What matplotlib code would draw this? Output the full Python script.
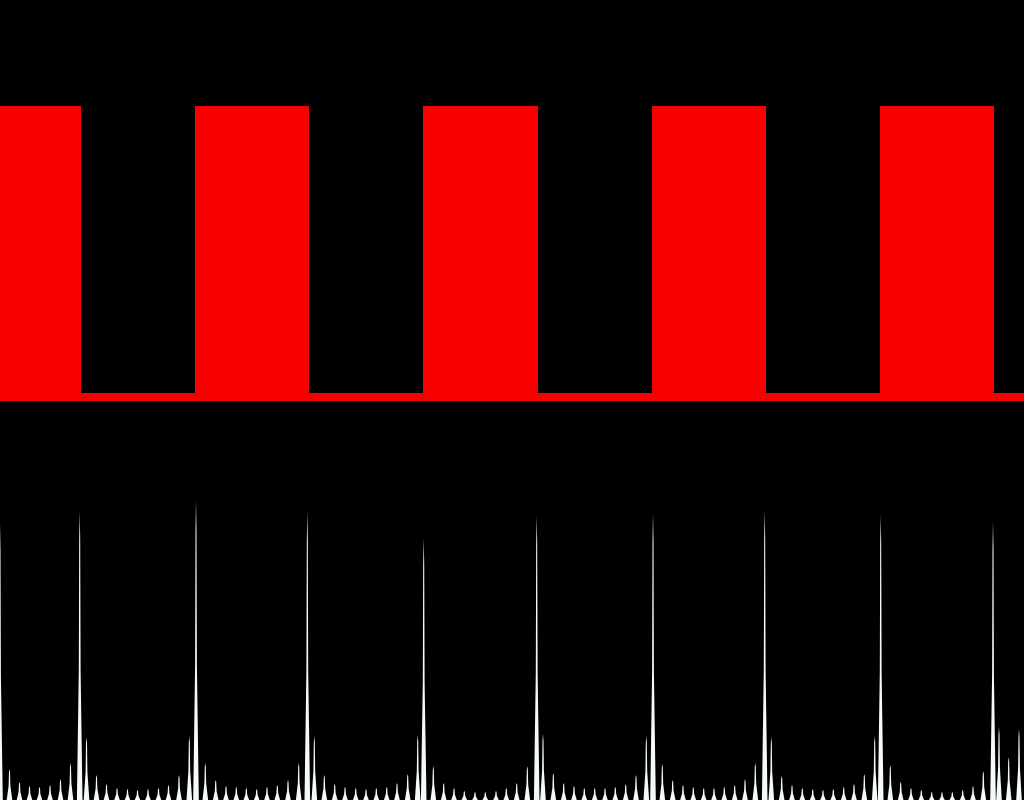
import matplotlib
matplotlib.use("Agg")
import matplotlib.pyplot as plt
import numpy as np

# square wave: edge positions (samples) and levels between them
edges = [0, 81, 195, 309, 423, 538, 652, 766, 880, 994, 1024]
levels = [1, 0, 1, 0, 1, 0, 1, 0, 1, 0]

# spectrum spikes: position and magnitude
spike_pos = [0, 9.5, 19.5, 29.5, 39.5, 50, 60.5, 70.5, 79.7, 86.5,
             96.5, 106.5, 117, 127.5, 137.5, 148, 158.5, 168.5, 179, 189.3,
             196, 205.3, 215.7, 226, 236.3, 246.3, 256.7, 267, 277.3, 288,
             298.7, 307.3, 314.3, 324.3, 334.7, 345, 355.7, 366, 376.3, 386.7,
             397, 407.7, 417.7, 423.7, 433.3, 443.7, 454, 464.3, 475, 485.3,
             496, 506.3, 516.7, 527.3, 536.7, 543, 553.3, 563.7, 574, 584.3,
             594.7, 605, 615.3, 625.7, 636, 646.3, 653, 662.3, 672.7, 683,
             693.3, 703.7, 714, 724.3, 734.7, 745, 755.3, 764.7, 771.3, 781.7,
             792, 802.3, 812.7, 823, 833.3, 843.7, 854, 864.3, 874.7, 880.7,
             890.3, 900.7, 911, 921.3, 931.7, 942, 952.3, 962.7, 973, 983.3,
             993, 999, 1008.7, 1019]
spike_mag = [277, 31, 18, 14, 13, 15, 21, 37, 289, 63,
             25, 16, 12, 11, 10, 11, 12, 15, 25, 64,
             300, 37, 20, 14, 13, 12, 11, 13, 15, 20,
             37, 289, 64, 25, 16, 13, 12, 11, 12, 13,
             17, 26, 65, 262, 34, 17, 12, 9, 8, 8,
             9, 12, 17, 34, 284, 66, 27, 17, 14, 12,
             12, 12, 13, 16, 25, 64, 287, 36, 20, 15,
             13, 12, 12, 13, 15, 21, 37, 290, 63, 24,
             15, 12, 11, 10, 11, 13, 16, 26, 64, 285,
             35, 18, 12, 10, 8, 8, 8, 10, 14, 29,
             279, 73, 43, 71]

fig = plt.figure(figsize=(10.24, 8), dpi=100, facecolor="black")

# top panel - the wave
ax1 = fig.add_axes([0, 399 / 800, 1, 401 / 800])
ax1.set_facecolor("black")
xs = edges
ys = levels + [levels[-1]]
ax1.fill_between(xs, ys, -0.028, step="post", color="#f80000", linewidth=0)
ax1.set_xlim(0, 1024)
ax1.set_ylim(-0.028, 1.369)
ax1.axis("off")

# bottom panel - the spectrum
ax2 = fig.add_axes([0, 0, 1, 400 / 800])
ax2.set_facecolor("black")
w = 2.8
for p, m in zip(spike_pos, spike_mag):
    # thin tip on a wider base, like the original
    ax2.fill([p - w, p - 0.9, p - 0.5, p, p + 0.5, p + 0.9, p + w],
             [0, m * 0.45, m * 0.9, m, m * 0.9, m * 0.45, 0],
             color="#f4fbf7", linewidth=0)
ax2.set_xlim(0, 1024)
ax2.set_ylim(0, 400)
ax2.axis("off")

fig.savefig("out.png", dpi=100, facecolor="black")
